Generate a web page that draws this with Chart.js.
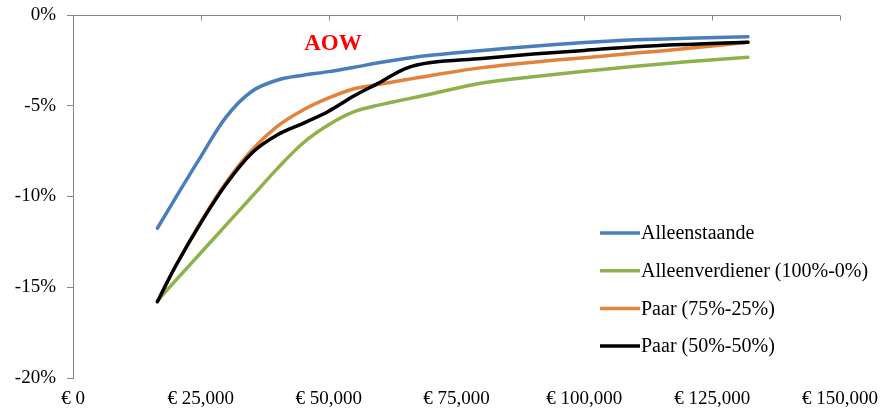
<!DOCTYPE html>
<html>
<head>
<meta charset="utf-8">
<script src="https://cdn.jsdelivr.net/npm/chart.js@4"></script>
<style>
  html, body { margin: 0; padding: 0; background: #fff; }
  #wrap { width: 890px; height: 413px; }
</style>
</head>
<body>
<div id="wrap"><canvas id="aowChart" width="890" height="413"></canvas></div>
<script>
// bruto inkomen (x) en procentuele verandering (y)
const incomes = [16500, 20000, 25000, 30000, 35000, 40000, 45000, 50000, 55000, 60000,
                 65000, 70000, 80000, 90000, 100000, 110000, 120000, 132000];

const alleenstaande   = [-11.75, -10.10, -7.80, -5.60, -4.20, -3.58, -3.32, -3.12, -2.88, -2.62,
                         -2.40, -2.22, -1.95, -1.72, -1.52, -1.37, -1.28, -1.20];
const alleenverdiener = [-15.75, -14.65, -13.10, -11.55, -10.00, -8.45, -7.05, -6.05, -5.33, -4.95,
                         -4.65, -4.35, -3.75, -3.40, -3.10, -2.82, -2.58, -2.33];
const paar7525        = [-15.80, -13.87, -11.40, -9.20, -7.43, -6.12, -5.23, -4.57, -4.06, -3.82,
                         -3.57, -3.33, -2.90, -2.60, -2.35, -2.10, -1.85, -1.50];
const paar5050        = [-15.80, -13.87, -11.45, -9.30, -7.60, -6.60, -5.97, -5.30, -4.45, -3.72,
                         -2.95, -2.62, -2.40, -2.15, -1.95, -1.75, -1.62, -1.50];

const seriesNames  = ['Alleenstaande', 'Alleenverdiener (100%-0%)', 'Paar (75%-25%)', 'Paar (50%-50%)'];
const seriesColors = ['#4A7EBB', '#8DB24C', '#E3823B', '#000000'];
const seriesValues = [alleenstaande, alleenverdiener, paar7525, paar5050];
const drawOrder    = [3, 2, 1, 0]; // zwart bovenop

const xMin = 0, xMax = 150000, xStep = 25000;
const yMin = -20, yMax = 0, yStep = 5;

const FONT = '"Liberation Serif", "DejaVu Serif", serif';
const AXIS_GREY = '#868686';

const toPoints = values => values.map((v, i) => ({ x: incomes[i], y: v }));

// bovenste as (0%-lijn) met streepjes naar binnen
const topAxis = {
  id: 'topAxis',
  afterDraw(chart) {
    const { ctx, chartArea, scales } = chart;
    const y0 = Math.round(scales.y.getPixelForValue(0)) + 0.5;
    ctx.save();
    ctx.strokeStyle = AXIS_GREY;
    ctx.lineWidth = 1;
    ctx.beginPath();
    ctx.moveTo(chartArea.left, y0);
    ctx.lineTo(chartArea.right, y0);
    scales.x.ticks.forEach(t => {
      const px = Math.round(scales.x.getPixelForValue(t.value)) + 0.5;
      ctx.moveTo(px, y0);
      ctx.lineTo(px, y0 + 5);
    });
    ctx.stroke();
    ctx.restore();
  }
};

// titel en legenda binnen het plotgebied
const insideLabels = {
  id: 'insideLabels',
  afterDraw(chart) {
    const { ctx, chartArea } = chart;
    ctx.save();
    ctx.fillStyle = '#FF0000';
    ctx.font = 'bold 23px ' + FONT;
    ctx.textAlign = 'center';
    ctx.textBaseline = 'middle';
    ctx.fillText('AOW', chartArea.left + 260, chartArea.top + 29);

    ctx.font = '20px ' + FONT;
    ctx.textAlign = 'left';
    ctx.lineWidth = 3.5;
    ctx.lineCap = 'butt';
    const lx = chartArea.left + 527;
    chart.data.datasets.forEach((ds, i) => {
      const ly = chartArea.top + 218 + i * 37.7;
      ctx.strokeStyle = ds.borderColor;
      ctx.beginPath();
      ctx.moveTo(lx, ly);
      ctx.lineTo(lx + 40, ly);
      ctx.stroke();
      ctx.fillStyle = '#000';
      ctx.fillText(ds.label, lx + 41, ly + 1);
    });
    ctx.restore();
  }
};

new Chart(document.getElementById('aowChart'), {
  type: 'line',
  data: {
    datasets: seriesNames.map((name, i) => ({
      label: name,
      data: toPoints(seriesValues[i]),
      borderColor: seriesColors[i],
      backgroundColor: seriesColors[i],
      borderWidth: 3.5,
      borderCapStyle: 'round',
      pointRadius: 0,
      fill: false,
      tension: 0.35,
      order: drawOrder[i]
    }))
  },
  options: {
    responsive: false,
    animation: false,
    layout: { padding: { top: 15, right: 50, bottom: 0, left: 0 } },
    plugins: {
      legend: { display: false },
      tooltip: { enabled: false }
    },
    scales: {
      x: {
        type: 'linear',
        min: xMin,
        max: xMax,
        grid: { display: false, drawTicks: false },
        border: { display: false },
        afterFit: s => { s.height = 35; },
        ticks: {
          stepSize: xStep,
          padding: 10,
          color: '#000',
          font: { family: FONT, size: 19 },
          maxRotation: 0,
          callback: v => '€ ' + v.toLocaleString('en-US')
        }
      },
      y: {
        min: yMin,
        max: yMax,
        grid: { drawOnChartArea: false, color: AXIS_GREY, tickLength: 6 },
        border: { display: true, color: AXIS_GREY },
        afterFit: s => { s.width = 73; s.paddingTop = 0; s.paddingBottom = 0; },
        ticks: {
          stepSize: yStep,
          padding: 11,
          color: '#000',
          font: { family: FONT, size: 19 },
          callback: v => v + '%'
        }
      }
    }
  },
  plugins: [topAxis, insideLabels]
});
</script>
</body>
</html>
